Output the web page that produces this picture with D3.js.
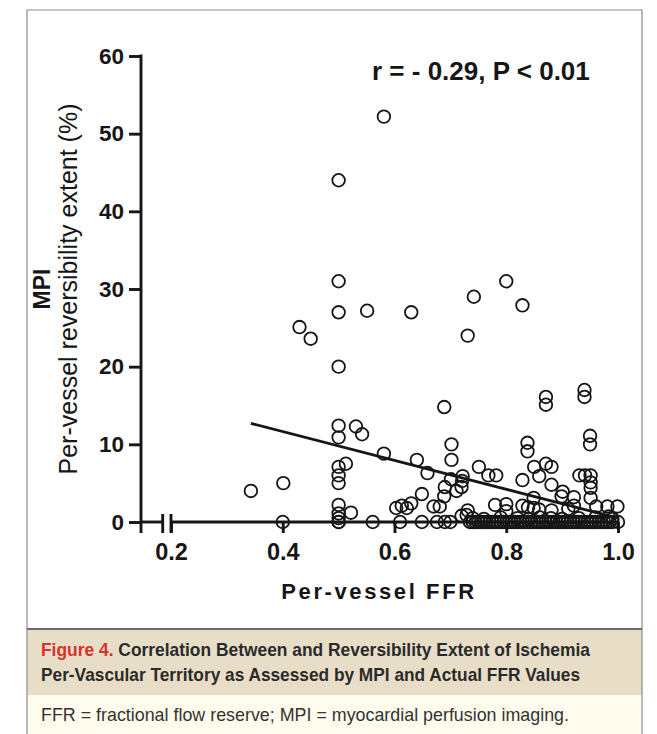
<!DOCTYPE html>
<html>
<head>
<meta charset="utf-8">
<script src="https://cdn.jsdelivr.net/npm/d3@7"></script>
<style>
  body { margin: 0; background: #fff; }
  svg text { font-family: "Liberation Sans", Arial, sans-serif; }
</style>
</head>
<body>
<div id="chart"></div>
<script>
// FFR (x) and MPI reversibility extent (y), one entry per vessel
var ffrValues = [
    0.581, 0.50, 0.50, 0.80, 0.742, 0.829, 0.50, 0.551, 0.630, 0.430,
    0.450, 0.731, 0.50, 0.689, 0.871, 0.871, 0.940, 0.940, 0.50, 0.531,
    0.542, 0.50, 0.950, 0.950, 0.702, 0.838, 0.838, 0.581, 0.640, 0.702,
    0.659, 0.513, 0.50, 0.50, 0.50, 0.401, 0.343, 0.751, 0.768, 0.782,
    0.722, 0.721, 0.701, 0.690, 0.720, 0.711, 0.649, 0.689, 0.670, 0.681,
    0.630, 0.603, 0.613, 0.622, 0.50, 0.50, 0.50, 0.522, 0.731, 0.729,
    0.720, 0.850, 0.871, 0.881, 0.859, 0.829, 0.881, 0.901, 0.899, 0.921,
    0.931, 0.941, 0.951, 0.951, 0.951, 0.951, 0.849, 0.780, 0.800, 0.800,
    0.829, 0.839, 0.849, 0.859, 0.881, 0.911, 0.921, 0.961, 0.981, 0.999,
    0.983,
    // on / near the zero line
    0.40, 0.50, 0.50, 0.561, 0.61, 0.649, 0.676, 0.69, 0.70,
    0.735, 0.74, 0.745, 0.75, 0.755, 0.76, 0.765, 0.77, 0.775, 0.78,
    0.785, 0.79, 0.795, 0.80, 0.805, 0.81, 0.815, 0.82, 0.825, 0.83,
    0.835, 0.84, 0.845, 0.85, 0.855, 0.86, 0.865, 0.87, 0.875, 0.88,
    0.885, 0.89, 0.895, 0.90, 0.905, 0.91, 0.915, 0.92, 0.925, 0.93,
    0.935, 0.94, 0.945, 0.95, 0.955, 0.96, 0.965, 0.97, 0.975, 0.98,
    0.985, 0.99, 1.0,
    0.74, 0.76, 0.79, 0.82, 0.84, 0.86, 0.88, 0.90, 0.93, 0.96, 0.99
];
var mpiValues = [
    52.2, 44.0, 31.0, 31.0, 29.0, 27.9, 27.0, 27.2, 27.0, 25.1,
    23.6, 24.0, 20.0, 14.8, 16.1, 15.1, 17.0, 16.1, 12.4, 12.3,
    11.3, 10.9, 11.1, 10.0, 10.0, 10.2, 9.1, 8.8, 8.0, 8.0,
    6.3, 7.5, 7.1, 6.0, 5.0, 5.0, 4.0, 7.1, 6.0, 6.0,
    5.9, 5.3, 5.5, 4.5, 4.5, 4.0, 3.6, 3.3, 2.0, 2.0,
    2.4, 1.8, 2.1, 1.8, 2.2, 1.1, 0.5, 1.2, 1.5, 0.9,
    0.8, 7.1, 7.5, 7.1, 5.9, 5.4, 4.8, 3.9, 3.3, 3.2,
    6.0, 6.0, 6.0, 5.1, 4.4, 3.1, 3.1, 2.2, 2.3, 1.4,
    2.1, 1.9, 1.8, 1.6, 1.5, 1.7, 2.1, 2.0, 2.0, 2.0,
    0.7,
    0, 0, 0, 0, 0, 0, 0, 0, 0,
    0, 0, 0, 0, 0, 0, 0, 0, 0, 0,
    0, 0, 0, 0, 0, 0, 0, 0, 0, 0,
    0, 0, 0, 0, 0, 0, 0, 0, 0, 0,
    0, 0, 0, 0, 0, 0, 0, 0, 0, 0,
    0, 0, 0, 0, 0, 0, 0, 0, 0, 0,
    0, 0, 0,
    0.5, 0.4, 0.6, 0.5, 0.4, 0.6, 0.5, 0.4, 0.5, 0.6, 0.4
];

// regression line end points
var fitFfr = [0.343, 1.0];
var fitMpi = [12.7, 0.5];

var xTicks = [0.2, 0.4, 0.6, 0.8, 1.0];
var yTicks = [0, 10, 20, 30, 40, 50, 60];

var statText = "r = - 0.29, P < 0.01";
var xTitle = "Per-vessel FFR";
var yTitleBold = "MPI";
var yTitle = "Per-vessel reversibility extent (%)";
var captionLabel = "Figure 4.";
var captionLine1 = " Correlation Between and Reversibility Extent of Ischemia";
var captionLine2 = "Per-Vascular Territory as Assessed by MPI and Actual FFR Values";
var footnote = "FFR = fractional flow reserve; MPI = myocardial perfusion imaging.";

var data = ffrValues.map(function (f, i) { return { ffr: f, mpi: mpiValues[i] }; });

var W = 657, H = 734;
var ink = "#161616";
var svg = d3.select("#chart")
    .append("svg")
    .attr("width", W)
    .attr("height", H);

// frame and caption panels
var frameL = 27, frameR = 642, frameT = 10;
svg.append("rect")
    .attr("x", frameL).attr("y", 629).attr("width", frameR - frameL).attr("height", 66)
    .attr("fill", "#e8dec8");
svg.append("rect")
    .attr("x", frameL).attr("y", 695).attr("width", frameR - frameL).attr("height", H - 695)
    .attr("fill", "#fffcee");
svg.append("path")
    .attr("d", "M" + frameL + "," + H + "V" + frameT + "H" + frameR + "V" + H)
    .attr("fill", "none")
    .attr("stroke", "#8a8a8a")
    .attr("stroke-width", 1.2);
svg.append("line")
    .attr("x1", frameL).attr("x2", frameR).attr("y1", 629).attr("y2", 629)
    .attr("stroke", "#6b6b6b").attr("stroke-width", 2);

// scales
var x = d3.scaleLinear().domain([0.2, 1.0]).range([171, 618]);
var y = d3.scaleLinear().domain([0, 60]).range([522, 56]);
var axisX = x(0.2) - 30;   // where the y axis sits
var breakGap = 8.3;
var axisW = 2.9;

var g = svg.append("g");

// Y axis
var yAxis = g.append("g")
    .attr("transform", "translate(" + axisX + ",0)")
    .call(d3.axisLeft(y).tickValues(yTicks).tickSize(12).tickPadding(5).tickFormat(d3.format("d")));
yAxis.select(".domain").remove();
yAxis.selectAll(".tick line").attr("stroke", ink).attr("stroke-width", axisW);
yAxis.selectAll(".tick text")
    .attr("fill", ink)
    .style("font-size", "22.5px")
    .style("font-weight", "bold");
g.append("line")
    .attr("x1", axisX).attr("x2", axisX)
    .attr("y1", y(60) - axisW / 2).attr("y2", y(0) + 11)
    .attr("stroke", ink).attr("stroke-width", axisW);

// X axis
var xAxis = g.append("g")
    .attr("transform", "translate(0," + y(0) + ")")
    .call(d3.axisBottom(x).tickValues(xTicks).tickSize(11).tickPadding(10).tickFormat(d3.format(".1f")));
xAxis.select(".domain").remove();
xAxis.selectAll(".tick line").attr("stroke", ink).attr("stroke-width", axisW);
xAxis.selectAll(".tick text")
    .attr("fill", ink)
    .style("font-size", "23.5px")
    .style("font-weight", "bold");

// axis line with a break before 0.2
g.append("line")
    .attr("x1", axisX).attr("x2", x(0.2) - breakGap)
    .attr("y1", y(0)).attr("y2", y(0))
    .attr("stroke", ink).attr("stroke-width", axisW);
g.append("line")
    .attr("x1", x(0.2)).attr("x2", x(1.0))
    .attr("y1", y(0)).attr("y2", y(0))
    .attr("stroke", ink).attr("stroke-width", axisW);
[x(0.2) - breakGap, x(0.2)].forEach(function (bx) {
    g.append("line")
        .attr("x1", bx).attr("x2", bx)
        .attr("y1", y(0) - 8).attr("y2", y(0) + 11)
        .attr("stroke", ink).attr("stroke-width", axisW);
});

// regression line
g.append("line")
    .attr("x1", x(fitFfr[0])).attr("y1", y(fitMpi[0]))
    .attr("x2", x(fitFfr[1])).attr("y2", y(fitMpi[1]))
    .attr("stroke", ink)
    .attr("stroke-width", 2.8);

// points
g.selectAll("circle.pt")
    .data(data)
    .enter()
    .append("circle")
    .attr("class", "pt")
    .attr("cx", function (d) { return x(d.ffr); })
    .attr("cy", function (d) { return y(d.mpi); })
    .attr("r", 6.3)
    .attr("fill", "none")
    .attr("stroke", ink)
    .attr("stroke-width", 1.8);

// correlation text
svg.append("text")
    .attr("x", 372).attr("y", 80)
    .attr("fill", ink)
    .style("font-size", "26px")
    .style("font-weight", "bold")
    .text(statText);

// axis titles
svg.append("text")
    .attr("x", 379).attr("y", 599)
    .attr("text-anchor", "middle")
    .attr("fill", ink)
    .style("font-size", "22px")
    .style("font-weight", "bold")
    .style("letter-spacing", "2.6px")
    .text(xTitle);

svg.append("text")
    .attr("transform", "translate(50," + y(30) + ")rotate(-90)")
    .attr("text-anchor", "middle")
    .attr("fill", ink)
    .style("font-size", "23px")
    .style("font-weight", "bold")
    .text(yTitleBold);
svg.append("text")
    .attr("transform", "translate(77," + y(30) + ")rotate(-90)")
    .attr("text-anchor", "middle")
    .attr("fill", ink)
    .style("font-size", "25px")
    .text(yTitle);

// caption
var cap1 = svg.append("text")
    .attr("x", 41).attr("y", 656)
    .attr("textLength", 549)
    .attr("lengthAdjust", "spacingAndGlyphs")
    .style("font-family", "'Liberation Sans Narrow', 'Liberation Sans', sans-serif")
    .style("font-size", "19px")
    .style("font-weight", "bold");
cap1.append("tspan").attr("fill", "#d8322a").text(captionLabel);
cap1.append("tspan").attr("fill", "#2a2a2a").text(captionLine1);

svg.append("text")
    .attr("x", 41).attr("y", 681)
    .attr("textLength", 539)
    .attr("lengthAdjust", "spacingAndGlyphs")
    .attr("fill", "#2a2a2a")
    .style("font-family", "'Liberation Sans Narrow', 'Liberation Sans', sans-serif")
    .style("font-size", "19px")
    .style("font-weight", "bold")
    .text(captionLine2);

svg.append("text")
    .attr("x", 41).attr("y", 721)
    .attr("textLength", 528)
    .attr("lengthAdjust", "spacingAndGlyphs")
    .attr("fill", "#333")
    .style("font-family", "'Liberation Sans Narrow', 'Liberation Sans', sans-serif")
    .style("font-size", "19px")
    .text(footnote);
</script>
</body>
</html>
